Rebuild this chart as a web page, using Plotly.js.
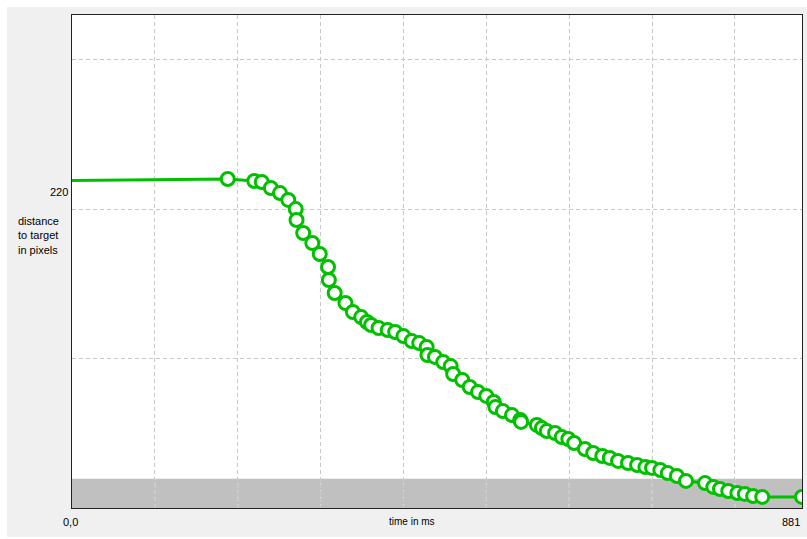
<!DOCTYPE html>
<html>
<head>
<meta charset="utf-8">
<script src="https://cdn.plot.ly/plotly-3.0.1.min.js"></script>
<style>
  html, body { margin: 0; padding: 0; background: #ffffff; }
  #chart { position: absolute; left: 7px; top: 7px; width: 800px; height: 530px; }
</style>
</head>
<body>
<div id="chart"></div>
<script>
// time in ms
const times = [0, 96, 188, 220, 229, 240, 251, 261, 270, 271, 279, 290, 299, 309, 310, 317,
  330, 339, 349, 356, 361, 370, 381, 390, 400, 410, 419, 428, 429, 438, 448, 457, 460,
  471, 480, 490, 500, 509, 511, 520, 531, 541, 542, 561, 567, 573, 583, 591, 599, 606,
  619, 629, 640, 649, 659, 671, 682, 692, 700, 710, 719, 730, 741, 764, 774, 782, 792,
  803, 812, 822, 833, 881];
// distance to target in pixels
const distances = [219.2, 219.7, 220.2, 218.9, 218.2, 214.2, 210.8, 206.2, 200.1, 192.8,
  184.1, 177.4, 170.0, 161.3, 152.6, 143.9, 137.2, 131.2, 127.8, 124.5, 122.5, 120.5,
  119.1, 117.8, 115.1, 111.8, 110.4, 107.8, 102.4, 101.1, 97.7, 95.0, 89.7, 85.7, 81.0,
  77.6, 75.0, 71.0, 67.6, 64.9, 62.2, 58.9, 57.6, 55.6, 53.5, 51.5, 50.2, 47.5, 46.2,
  43.5, 39.5, 36.8, 34.8, 33.5, 31.5, 30.1, 28.8, 27.4, 26.8, 25.4, 23.4, 21.4, 18.1,
  16.7, 14.1, 12.7, 11.4, 10.0, 9.4, 8.0, 7.4, 7.4];
// first samples drawn without a marker
const unmarkedCount = 2;
const targetRadius = 19.5;
const xMax = 881;
const yMax = 330;
const gridTimes = [100, 200, 300, 400, 500, 600, 700, 800];
const yLabelValue = 220;
const xTickLabels = ["0,0", "881"];

const green = "rgb(0,192,0)";
const font = {family: "Liberation Sans, Arial, sans-serif", size: 11, color: "#000"};

const traces = [
  {
    x: times, y: distances, type: "scatter", mode: "lines",
    line: {color: green, width: 3}, hoverinfo: "skip", showlegend: false
  },
  {
    x: times.slice(unmarkedCount), y: distances.slice(unmarkedCount),
    type: "scatter", mode: "markers",
    marker: {symbol: "circle", size: 13, color: "#ffffff", line: {color: green, width: 3}},
    hoverinfo: "skip", showlegend: false
  }
];

const shapes = [{
  type: "rect", xref: "paper", yref: "y", x0: 0, x1: 1, y0: 0, y1: targetRadius,
  fillcolor: "#c0c0c0", line: {width: 0}, layer: "below"
}];
gridTimes.forEach(t => shapes.push({
  type: "line", xref: "x", yref: "y", x0: t, x1: t, y0: 0, y1: targetRadius,
  line: {color: "#e4e4e4", width: 1, dash: "4px,3px"}, layer: "below"
}));

const layout = {
  width: 800, height: 530,
  margin: {l: 65, r: 5, t: 8, b: 29},
  paper_bgcolor: "#f0f0f0", plot_bgcolor: "#ffffff",
  font: font,
  showlegend: false,
  xaxis: {
    range: [0, xMax], tick0: 0, dtick: 100, showgrid: true, gridcolor: "#c8c8c8",
    griddash: "4px,3px", gridwidth: 1, zeroline: false, showticklabels: false, ticks: "",
    showline: true, mirror: true, linecolor: "#222", linewidth: 1, fixedrange: true
  },
  yaxis: {
    range: [0, yMax], tick0: 0, dtick: 100, showgrid: true, gridcolor: "#c8c8c8",
    griddash: "4px,3px", gridwidth: 1, zeroline: false, showticklabels: false, ticks: "",
    showline: true, mirror: true, linecolor: "#222", linewidth: 1, fixedrange: true
  },
  shapes: shapes,
  annotations: [
    {xref: "paper", yref: "y", x: 0, y: yLabelValue, text: String(yLabelValue),
     xanchor: "right", yanchor: "middle", xshift: -2, yshift: -13, showarrow: false, font: font},
    {xref: "paper", yref: "y", x: 0, y: yLabelValue, text: "distance<br>to target<br>in pixels",
     xanchor: "left", yanchor: "top", xshift: -56, yshift: -34, showarrow: false, align: "left",
     font: font},
    {xref: "x", yref: "paper", x: 0, y: 0, text: xTickLabels[0], xanchor: "center",
     yanchor: "top", yshift: -6, xshift: -2, showarrow: false, font: font},
    {xref: "x", yref: "paper", x: xMax, y: 0, text: xTickLabels[1], xanchor: "right",
     yanchor: "top", yshift: -6, showarrow: false, font: font},
    {xref: "paper", yref: "paper", x: 0.466, y: 0, text: "time in ms", xanchor: "center",
     yanchor: "top", yshift: -6, showarrow: false, font: {family: font.family, size: 10, color: "#000"}}
  ]
};

Plotly.newPlot("chart", traces, layout, {staticPlot: true, displayModeBar: false});
</script>
</body>
</html>
